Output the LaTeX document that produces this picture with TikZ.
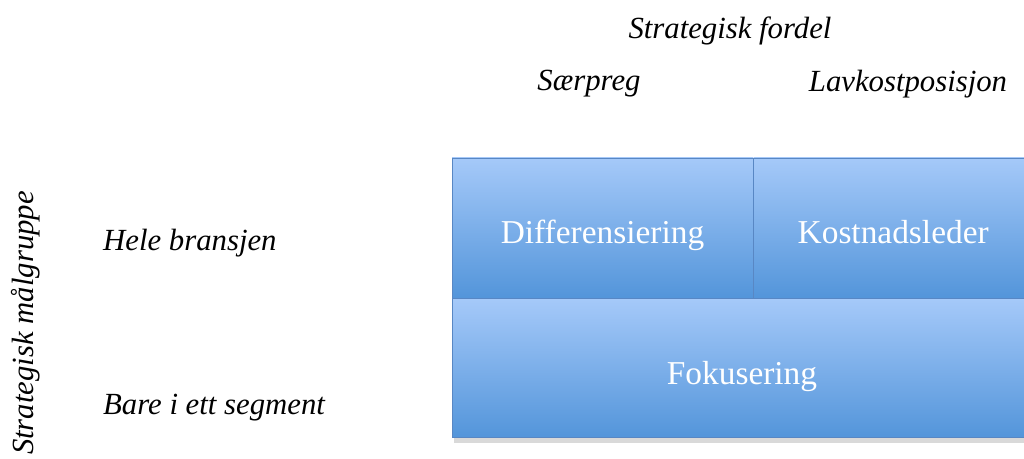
\documentclass[tikz,border=0pt]{standalone}
\usepackage{fontspec}
\setmainfont{Liberation Serif}
\usetikzlibrary{positioning,shadows}

\definecolor{boxtop}{RGB}{165,201,249}
\definecolor{boxbottom}{RGB}{83,149,218}
\definecolor{boxedge}{RGB}{88,135,196}

\begin{document}
\begin{tikzpicture}[
    every node/.style={font=\fontsize{17.5}{20}\selectfont\itshape},
    field/.style={draw=boxedge, thin, top color=boxtop, bottom color=boxbottom,
        inner sep=0pt, minimum height=2.8cm, text=white,
        text height=0.64cm, text depth=0pt,
        font=\fontsize{19}{22}\selectfont}
]
\useasboundingbox (0,0) rectangle (20.48,9.18);

% Strategy fields
\node[field, minimum width=6.02cm] (diff) at (12.05,4.62) {Differensiering};
\node[field, minimum width=5.58cm, right=0pt of diff] (kost) {Kostnadsleder};
\node[field, minimum width=11.6cm, minimum height=2.78cm,
      drop shadow={shadow xshift=0.04cm, shadow yshift=-0.1cm, opacity=0.3},
      below right=0pt and 0pt of diff.south west] (fok) {Fokusering};

% Strategic advantage (columns)
\node (fordel) at (14.6,8.57) {Strategisk fordel};
\node (saerpreg) at (11.78,7.5) {Særpreg};
\node (lavkost) at (18.16,7.5) {Lavkostposisjon};

% Target group (rows)
\node[anchor=west] (hele) at (1.94,4.32) {Hele bransjen};
\node[anchor=west] (bare) at (1.94,1.03) {Bare i ett segment};
\node[rotate=90] (maalgruppe) at (0.52,2.72) {Strategisk målgruppe};

\end{tikzpicture}
\end{document}
